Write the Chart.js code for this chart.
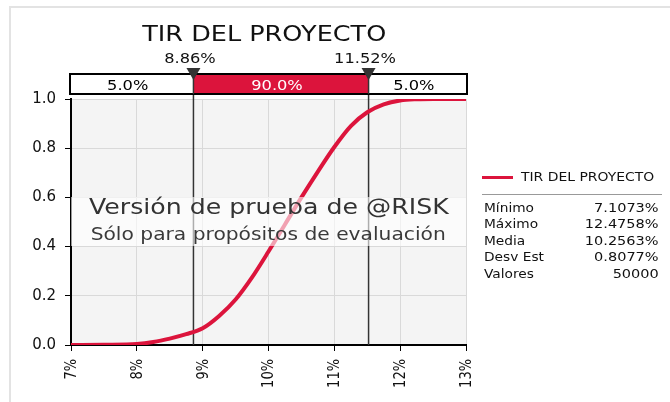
<!DOCTYPE html>
<html lang="es">
<head>
<meta charset="UTF-8">
<title>TIR DEL PROYECTO</title>
<script src="https://cdn.jsdelivr.net/npm/chart.js@4.4.0/dist/chart.umd.min.js"></script>
<style>
  body { margin: 0; background: #fff; font-family: "DejaVu Sans", sans-serif; }
  #wrap { position: relative; width: 670px; height: 402px; overflow: hidden; }
  #frame { position: absolute; left: 9px; top: 6px; width: 700px; height: 500px; border: 2px solid #e3e3e3; }
  #canvas { position: absolute; left: 0; top: 0; }
  .abs { position: absolute; white-space: nowrap; }
  /* the reference text is a little wider than DejaVu, stretch it */
  .wide { display: inline-block; transform: scaleX(1.16); }
  #title { left: 0; width: 528px; top: 21px; text-align: center; font-size: 22px; line-height: 26px; color: #111; }
  #title .wide { transform-origin: center; }
  #wm { left: 71px; width: 395px; top: 197px; height: 49px; background: rgba(255,255,255,0.6); }
  .wm1 { left: 71px; width: 395px; text-align: center; top: 194px; font-size: 21px; line-height: 27px; color: #333; }
  .wm2 { left: 71px; width: 395px; text-align: center; top: 223px; font-size: 17px; line-height: 22px; color: #3a3a3a; }
  .wm1 .wide { transform: scaleX(1.2); transform-origin: center; }
  .wm2 .wide { transform: scaleX(1.19); transform-origin: center; }
  #legLine { left: 482px; top: 176px; width: 31px; height: 3px; background: #dc143c; }
  #legText { left: 521px; top: 170px; font-size: 12px; line-height: 14px; color: #111; }
  #legText .wide { transform-origin: left; }
  #legSep { left: 482px; top: 194px; width: 180px; height: 1px; background: #999; }
  #stats { left: 484px; top: 200px; width: 175px; font-size: 12.5px; line-height: 16.4px; color: #111; }
  #stats .row { display: flex; justify-content: space-between; }
  #stats .l { transform-origin: left; transform: scaleX(1.1); }
  #stats .r { transform-origin: right; }
</style>
</head>
<body>
<div id="wrap">
  <div id="frame"></div>
  <canvas id="canvas" width="670" height="402"></canvas>
  <div id="title" class="abs"><span class="wide">TIR DEL PROYECTO</span></div>
  <div id="wm" class="abs"></div>
  <div class="abs wm1"><span class="wide">Versión de prueba de @RISK</span></div>
  <div class="abs wm2"><span class="wide">Sólo para propósitos de evaluación</span></div>
  <div id="legLine" class="abs"></div>
  <div id="legText" class="abs"><span class="wide">TIR DEL PROYECTO</span></div>
  <div id="legSep" class="abs"></div>
  <div id="stats" class="abs"></div>
</div>
<script>
// curva acumulada (TIR en %, probabilidad acumulada)
const tirPct = [7.0, 7.5, 8.0, 8.25, 8.5, 8.75, 9.0, 9.25, 9.5, 9.75, 10.0, 10.25, 10.5, 10.75, 11.0, 11.25, 11.5, 11.75, 12.0, 12.25, 12.5, 13.0];
const cumProb = [0, 0.001, 0.004, 0.012, 0.026, 0.044, 0.068, 0.118, 0.185, 0.275, 0.38, 0.49, 0.60, 0.705, 0.805, 0.89, 0.946, 0.978, 0.994, 0.999, 1.0, 1.0];

const xTicks = [7, 8, 9, 10, 11, 12, 13];
const xTickLabels = ['7%', '8%', '9%', '10%', '11%', '12%', '13%'];
const yTickLabels = ['0.0', '0.2', '0.4', '0.6', '0.8', '1.0'];

const markers = [8.86, 11.52];
const markerLabels = ['8.86%', '11.52%'];
const bandLabels = ['5.0%', '90.0%', '5.0%'];

const statNames = ['Mínimo', 'Máximo', 'Media', 'Desv Est', 'Valores'];
const statValues = ['7.1073%', '12.4758%', '10.2563%', '0.8077%', '50000'];

const RED = '#dc143c';
const STRETCH = 1.16;

const statsEl = document.getElementById('stats');
statNames.forEach((n, i) => {
  const row = document.createElement('div');
  row.className = 'row';
  row.innerHTML = '<span class="wide l">' + n + '</span><span class="wide r">' + statValues[i] + '</span>';
  statsEl.appendChild(row);
});

// stretched text, centred on x
function wideText(ctx, txt, x, y) {
  ctx.save();
  ctx.translate(x, y);
  ctx.scale(STRETCH, 1);
  ctx.fillText(txt, 0, 0);
  ctx.restore();
}

const bandPlugin = {
  id: 'band',
  beforeDraw(chart) {
    const { ctx, chartArea: a } = chart;
    ctx.save();
    ctx.fillStyle = '#f4f4f4';
    ctx.fillRect(a.left, a.top, a.right - a.left, a.bottom - a.top);
    ctx.restore();
  },
  beforeDatasetsDraw(chart) {
    const { ctx, chartArea: a, scales } = chart;
    ctx.save();
    ctx.strokeStyle = '#333';
    ctx.lineWidth = 1.5;
    markers.forEach(m => {
      const x = scales.x.getPixelForValue(m);
      ctx.beginPath();
      ctx.moveTo(x, a.top - 5);
      ctx.lineTo(x, a.bottom);
      ctx.stroke();
    });
    ctx.restore();
  },
  afterDraw(chart) {
    const { ctx, chartArea: a, scales } = chart;
    const top = a.top - 25, bot = a.top - 5;
    const left = a.left - 1, right = a.right + 1;
    const xs = markers.map(m => scales.x.getPixelForValue(m));
    ctx.save();
    ctx.fillStyle = '#fff';
    ctx.fillRect(left, top, right - left, bot - top);
    ctx.fillStyle = RED;
    ctx.fillRect(xs[0], top, xs[1] - xs[0], bot - top);
    ctx.strokeStyle = '#000';
    ctx.lineWidth = 2;
    ctx.strokeRect(left, top, right - left, bot - top);
    ctx.strokeStyle = '#333';
    ctx.lineWidth = 1.5;
    xs.forEach(x => {
      ctx.beginPath();
      ctx.moveTo(x, top);
      ctx.lineTo(x, bot);
      ctx.stroke();
    });

    ctx.font = '14px "DejaVu Sans"';
    ctx.textAlign = 'center';
    ctx.textBaseline = 'alphabetic';
    const segs = [[left, xs[0]], [xs[0], xs[1]], [xs[1], right]];
    segs.forEach((s, i) => {
      ctx.fillStyle = i === 1 ? '#fff' : '#000';
      wideText(ctx, bandLabels[i], (s[0] + s[1]) / 2 - 4, bot - 4);
    });

    xs.forEach((x, i) => {
      ctx.fillStyle = '#333';
      ctx.beginPath();
      ctx.moveTo(x - 7, top - 6);
      ctx.lineTo(x + 7, top - 6);
      ctx.lineTo(x, top + 6);
      ctx.closePath();
      ctx.fill();
      ctx.fillStyle = '#111';
      wideText(ctx, markerLabels[i], x - 3.5, top - 11);
    });

    // rotated x tick labels, read bottom to top, end just under the ticks
    ctx.font = '13px "DejaVu Sans"';
    ctx.fillStyle = '#111';
    ctx.textAlign = 'right';
    ctx.textBaseline = 'middle';
    xTicks.forEach((v, i) => {
      const x = scales.x.getPixelForValue(v);
      ctx.save();
      ctx.translate(x + 1, a.bottom + 14);
      ctx.rotate(-Math.PI / 2);
      ctx.scale(1, STRETCH);
      ctx.fillText(xTickLabels[i], 0, 0);
      ctx.restore();
    });
    ctx.restore();
  }
};

Chart.defaults.font.family = '"DejaVu Sans", sans-serif';
Chart.defaults.color = '#111';

new Chart(document.getElementById('canvas').getContext('2d'), {
  type: 'line',
  data: {
    datasets: [{
      label: 'TIR DEL PROYECTO',
      data: tirPct.map((x, i) => ({ x: x, y: cumProb[i] })),
      borderColor: RED,
      borderWidth: 4,
      pointRadius: 0,
      cubicInterpolationMode: 'monotone',
      fill: false
    }]
  },
  options: {
    responsive: false,
    animation: false,
    devicePixelRatio: 1,
    layout: { padding: { left: 0, right: 204, top: 99, bottom: 0 } },
    plugins: { legend: { display: false }, tooltip: { enabled: false } },
    scales: {
      x: {
        type: 'linear',
        min: 7,
        max: 13,
        afterBuildTicks: s => { s.ticks = xTicks.map(v => ({ value: v })); },
        afterFit: s => { s.height = 57; },
        grid: { color: '#d9d9d9', tickColor: '#000', tickLength: 6 },
        border: { color: '#000', width: 2 },
        ticks: { display: false }
      },
      y: {
        min: 0,
        max: 1,
        afterBuildTicks: s => { s.ticks = yTickLabels.map((t, i) => ({ value: i * 0.2 })); },
        afterFit: s => { s.width = 71; },
        grid: { color: '#d9d9d9', tickColor: '#000', tickLength: 6 },
        border: { color: '#000', width: 2 },
        ticks: {
          padding: 9,
          font: { size: 15 },
          color: '#111',
          callback: (v, i) => yTickLabels[i]
        }
      }
    }
  },
  plugins: [bandPlugin]
});
</script>
</body>
</html>
